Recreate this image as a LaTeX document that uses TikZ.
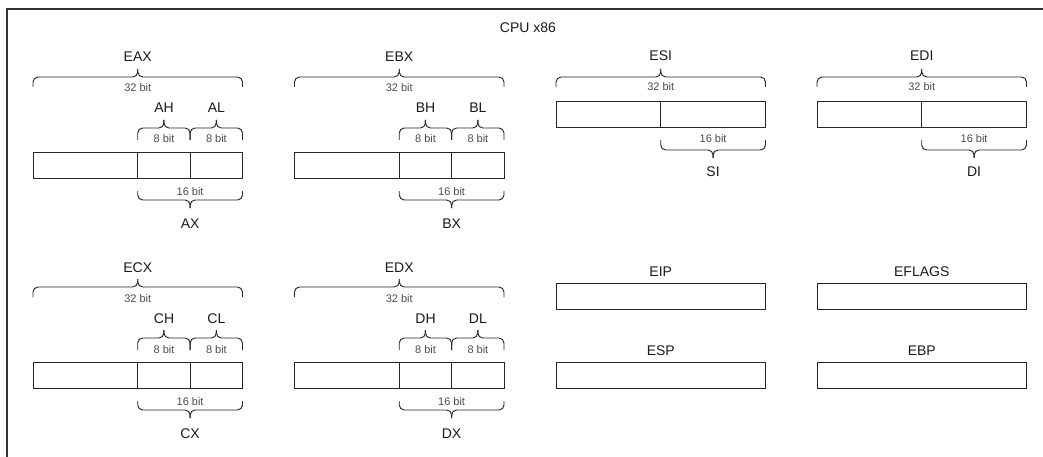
\documentclass[tikz,border=0pt]{standalone}
\usepackage{fontspec}
\setmainfont{Liberation Sans}
\newcommand\cbrace[5]{%
  \draw[brc] (#1,#5) -- (#1,#4) -- ({(#1+#2)/2},#4) -- ({(#1+#2)/2},#3);
  \draw[brc] (#2,#5) -- (#2,#4) -- ({(#1+#2)/2},#4) -- ({(#1+#2)/2},#3);}
\begin{document}
\begin{tikzpicture}[x=1pt,y=-1pt,
  frame/.style={line width=1.1pt, draw=black!80},
  reg/.style={draw=black!85, line width=0.95pt},
  regbox/.style={reg, minimum width=209.5pt, minimum height=26pt, anchor=north west, inner sep=0, outer sep=0},
  brc/.style={draw=black!85, line width=0.95pt, rounded corners=5pt},
  lbl/.style={font=\fontsize{14}{16}\selectfont, text=black!90, anchor=base, inner sep=0},
  small/.style={font=\fontsize{11}{13}\selectfont, text=black!70, anchor=base, inner sep=0}]
\useasboundingbox (0,0) rectangle (1043,457);
\draw[frame] (7,457) -- (7,9) -- (1043,9);
\node[lbl] (title) at (528,33) {CPU x86};

\foreach \x/\yo/\R/\H/\L/\X in {33/0/EAX/AH/AL/AX, 294.5/0/EBX/BH/BL/BX, 33/210/ECX/CH/CL/CX, 294.5/210/EDX/DH/DL/DX}{
  \node[lbl] (\R) at (\x+104.75,62+\yo) {\R};
  \cbrace{\x}{\x+209.5}{69+\yo}{77+\yo}{87+\yo}
  \node[small] (\R-w) at (\x+104.75,92+\yo) {32 bit};
  \node[lbl] (\H) at (\x+131,113+\yo) {\H};
  \node[lbl] (\L) at (\x+183.4,113+\yo) {\L};
  \cbrace{\x+104.75}{\x+157.1}{120+\yo}{128+\yo}{140+\yo}
  \cbrace{\x+157.1}{\x+209.5}{120+\yo}{128+\yo}{140+\yo}
  \node[small] (\H-w) at (\x+131,143+\yo) {8 bit};
  \node[small] (\L-w) at (\x+183.4,143+\yo) {8 bit};
  \node[regbox] (\R-box) at (\x,152+\yo) {};
  \draw[reg] (\R-box.north) -- (\R-box.south);
  \draw[reg] (\x+157.1,152+\yo) -- (\x+157.1,178+\yo);
  \cbrace{\x+104.75}{\x+209.5}{208+\yo}{200+\yo}{191+\yo}
  \node[small] (\X-w) at (\x+157.1,195+\yo) {16 bit};
  \node[lbl] (\X) at (\x+157.1,228+\yo) {\X};
}

\foreach \x/\R/\S in {556/ESI/SI, 817/EDI/DI}{
  \node[lbl] (\R) at (\x+104.75,61) {\R};
  \cbrace{\x}{\x+209.5}{69}{77}{87}
  \node[small] (\R-w) at (\x+104.75,91) {32 bit};
  \node[regbox] (\R-box) at (\x,101) {};
  \draw[reg] (\R-box.north) -- (\R-box.south);
  \cbrace{\x+104.75}{\x+209.5}{158}{150}{140}
  \node[small] (\S-w) at (\x+157.1,143) {16 bit};
  \node[lbl] (\S) at (\x+157.1,176) {\S};
}

\foreach \x/\yy/\R in {556/283/EIP, 556/362/ESP, 817/283/EFLAGS, 817/362/EBP}{
  \node[lbl] (\R) at (\x+104.75,\yy-7) {\R};
  \node[regbox] (\R-box) at (\x,\yy) {};
}
\end{tikzpicture}
\end{document}
